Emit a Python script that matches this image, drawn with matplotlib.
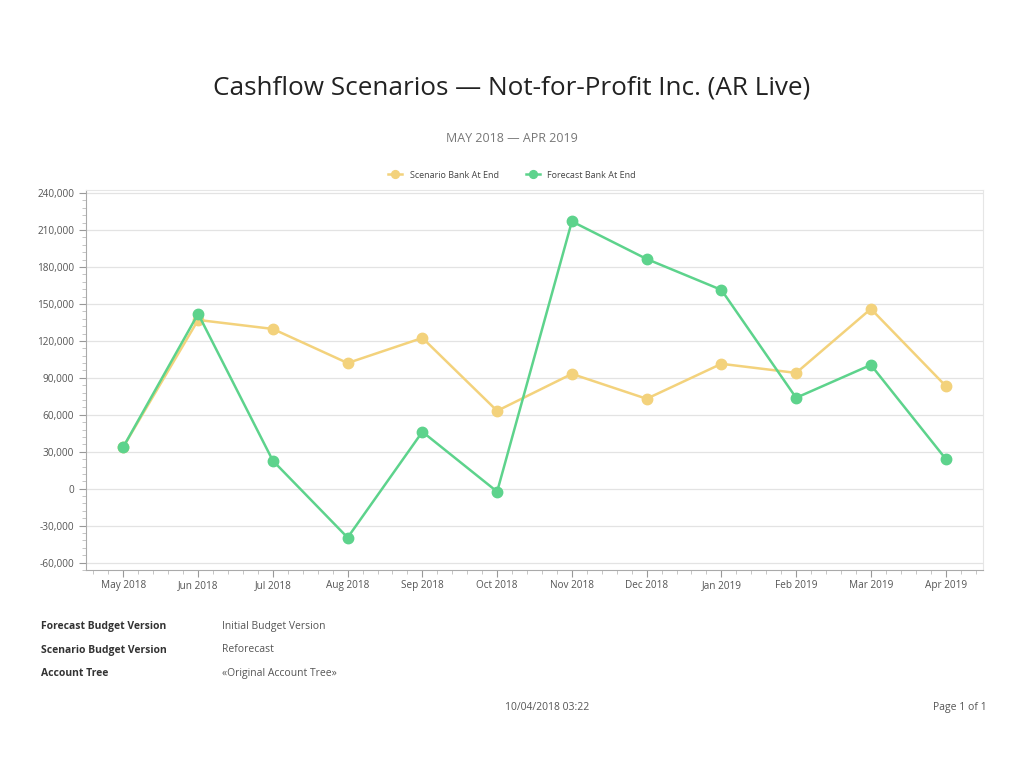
import matplotlib
matplotlib.use("Agg")
import matplotlib.pyplot as plt
from matplotlib.ticker import MultipleLocator, FuncFormatter

months = ["May 2018", "Jun 2018", "Jul 2018", "Aug 2018", "Sep 2018", "Oct 2018",
          "Nov 2018", "Dec 2018", "Jan 2019", "Feb 2019", "Mar 2019", "Apr 2019"]
scenario = [34000, 137000, 129700, 102000, 122400, 63200,
            93200, 73000, 101400, 94000, 146000, 83500]
forecast = [34000, 142000, 22700, -39700, 46200, -2400,
            217000, 186500, 161400, 73800, 100500, 24300]

footer_labels = ["Forecast Budget Version", "Scenario Budget Version", "Account Tree"]
footer_values = ["Initial Budget Version", "Reforecast", "\u00abOriginal Account Tree\u00bb"]

plt.rcParams['font.family'] = ['Open Sans', 'DejaVu Sans']

yellow = "#F3D27C"
green = "#5DD38C"
txt = "#555555"

fig = plt.figure(figsize=(10.24, 7.70), dpi=100)
ax = fig.add_axes([86/1024, 1-570/770, (983-86)/1024, (570-190)/770])

x = list(range(len(months)))
ax.plot(x, scenario, color=yellow, lw=1.8, marker='o', ms=7.5, zorder=3,
        label="Scenario Bank At End")
ax.plot(x, forecast, color=green, lw=1.8, marker='o', ms=7.5, zorder=4,
        label="Forecast Bank At End")

ax.set_xlim(-0.5, 11.5)
ax.set_ylim(-66000, 242500)
ax.set_xticks(x)
ax.set_xticklabels(months)
ax.xaxis.set_minor_locator(MultipleLocator(0.2))
ax.yaxis.set_major_locator(MultipleLocator(30000))
ax.yaxis.set_minor_locator(MultipleLocator(6000))
ax.yaxis.set_major_formatter(FuncFormatter(lambda v, p: f"{int(v):,}"))
ax.grid(axis='y', which='major', color="#E3E3E3", lw=0.9, zorder=0)
ax.set_axisbelow(True)

for s in ['top', 'right']:
    ax.spines[s].set_color("#E6E6E6")
for s in ['left', 'bottom']:
    ax.spines[s].set_color("#AAAAAA")
ax.tick_params(axis='both', which='major', labelsize=7.2, labelcolor=txt,
               color="#999999", length=5, width=0.8)
ax.tick_params(axis='both', which='minor', color="#BBBBBB", length=3, width=0.6)
ax.tick_params(axis='x', pad=8)
for lbl in ax.get_xticklabels():
    lbl.set_verticalalignment('baseline')

fig.text(0.5, 1-88/770, "Cashflow Scenarios \u2014 Not-for-Profit Inc. (AR Live)",
         ha='center', va='center', fontsize=18.8, color="#222222")
fig.text(0.5, 1-139/770, "MAY 2018 \u2014 APR 2019", ha='center', va='center',
         fontsize=9, color="#777777")

leg = fig.legend(loc='center', bbox_to_anchor=(0.5, 1-175/770), ncol=2,
                 frameon=False, fontsize=6.5, markerscale=0.75, handlelength=1.6,
                 columnspacing=3, labelcolor="#444444")

for i, (lab, val) in enumerate(zip(footer_labels, footer_values)):
    yy = 1 - (629 + i*23.5)/770
    fig.text(41/1024, yy, lab, ha='left', va='baseline', fontsize=7.5,
             fontweight='bold', color="#333333")
    fig.text(222/1024, yy, val, ha='left', va='baseline', fontsize=7.5, color="#555555")

fig.text(547/1024, 1-710/770, "10/04/2018 03:22", ha='center', va='baseline',
         fontsize=7.5, color="#555555")
fig.text(987/1024, 1-710/770, "Page 1 of 1", ha='right', va='baseline',
         fontsize=7.5, color="#555555")

fig.savefig("out.png", dpi=100, facecolor='white')
